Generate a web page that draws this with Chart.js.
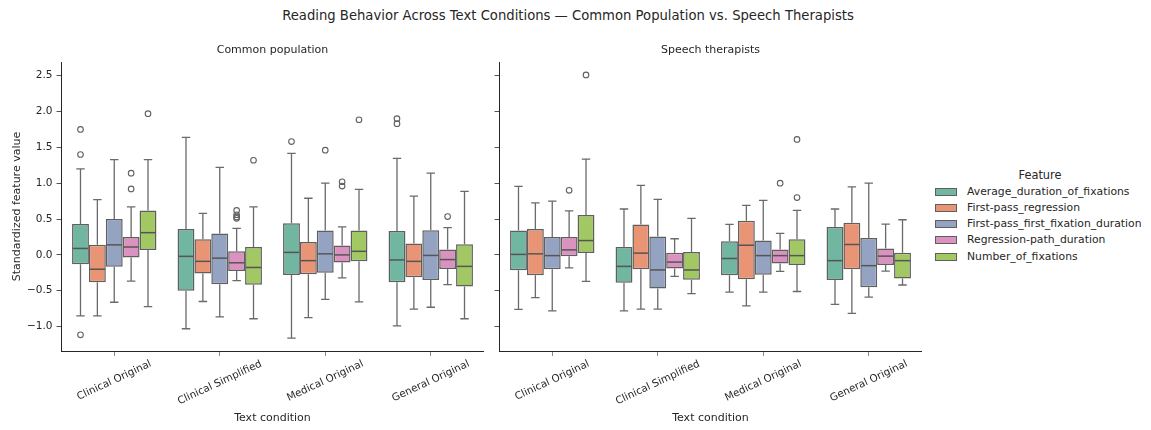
<!DOCTYPE html>
<html>
<head>
<meta charset="utf-8">
<script src="https://cdn.jsdelivr.net/npm/chart.js@4.4.1/dist/chart.umd.min.js"></script>
<style>
  body { margin: 0; background: #fff; }
  #wrap { position: relative; width: 1151px; height: 430px; background: #fff; font-family: "DejaVu Sans", sans-serif; color: #262626; overflow: hidden; }
  #title { position: absolute; left: 0; top: 8px; width: 1136px; text-align: center; font-size: 13.2px; line-height: 16px; }
  canvas { position: absolute; top: 0; }
  #left { left: 0; }
  #right { left: 490px; }
  #legend { position: absolute; left: 935px; top: 167px; font-size: 10.8px; }
  #legend .ttl { position: absolute; left: 0; width: 210px; top: 0; text-align: center; font-size: 11.4px; line-height: 16px; }
  #legend .row { position: absolute; left: 0; height: 16px; line-height: 16px; white-space: nowrap; }
  #legend .sw { position: absolute; left: 0; top: 4px; width: 20px; height: 6px; border: 1px solid #5f5f5f; }
  #legend .lb { position: absolute; left: 32px; top: 0; }
</style>
</head>
<body>
<div id="wrap">
  <div id="title">Reading Behavior Across Text Conditions — Common Population vs. Speech Therapists</div>
  <canvas id="left" width="490" height="430"></canvas>
  <canvas id="right" width="440" height="430"></canvas>
  <div id="legend"></div>
</div>
<script>
// categories and features
const categories = ['Clinical Original', 'Clinical Simplified', 'Medical Original', 'General Original'];
const features = ['Average_duration_of_fixations', 'First-pass_regression', 'First-pass_first_fixation_duration', 'Regression-path_duration', 'Number_of_fixations'];
const featureColors = ['#71b6a1', '#e99575', '#95a3c3', '#db92c1', '#a2c864'];
const yTicks = [-1.0, -0.5, 0.0, 0.5, 1.0, 1.5, 2.0, 2.5];

// Common population, one row per feature, one column per category
const commonLow  = [[-0.85, -1.03, -1.16, -0.99], [-0.85, -0.65, -0.875, -0.755], [-0.66, -0.865, -0.62, -0.73], [-0.365, -0.36, -0.32, -0.415], [-0.72, -0.89, -0.655, -0.89]];
const commonQ1   = [[-0.13, -0.50, -0.28, -0.38], [-0.38, -0.26, -0.27, -0.31], [-0.165, -0.41, -0.25, -0.35], [-0.035, -0.225, -0.105, -0.195], [0.07, -0.415, -0.09, -0.44]];
const commonMed  = [[0.09, -0.02, 0.035, -0.07], [-0.20, -0.09, -0.08, -0.09], [0.14, -0.045, 0.015, -0.007], [0.11, -0.11, 0.0, -0.065], [0.31, -0.175, 0.05, -0.16]];
const commonQ3   = [[0.43, 0.36, 0.44, 0.335], [0.14, 0.22, 0.18, 0.16], [0.50, 0.30, 0.34, 0.345], [0.25, 0.05, 0.13, 0.075], [0.62, 0.11, 0.34, 0.15]];
const commonHigh = [[1.20, 1.64, 1.415, 1.345], [0.77, 0.58, 0.79, 0.82], [1.33, 1.22, 1.00, 1.14], [0.67, 0.37, 0.39, 0.38], [1.33, 0.67, 0.915, 0.885]];
const commonOutliers = [
  [[1.75, 1.40, -1.115], [], [1.58], [1.90, 1.83]],
  [[], [], [], []],
  [[], [], [1.46], []],
  [[1.14, 0.92], [0.62, 0.56, 0.53, 0.51], [1.02, 0.96], [0.535]],
  [[1.97], [1.32], [1.885], []]
];

// Speech therapists
const speechLow  = [[-0.76, -0.78, -0.52, -0.69], [-0.595, -0.755, -0.71, -0.815], [-0.78, -0.755, -0.52, -0.59], [-0.18, -0.30, -0.23, -0.225], [-0.37, -0.54, -0.51, -0.42]];
const speechQ1   = [[-0.215, -0.39, -0.285, -0.35], [-0.285, -0.20, -0.34, -0.20], [-0.20, -0.47, -0.275, -0.45], [-0.02, -0.19, -0.12, -0.14], [0.025, -0.345, -0.14, -0.33]];
const speechMed  = [[0.007, -0.16, -0.05, -0.08], [0.015, 0.025, 0.135, 0.145], [-0.01, -0.21, -0.01, -0.15], [0.07, -0.10, -0.01, -0.017], [0.20, -0.21, -0.01, -0.08]];
const speechQ3   = [[0.34, 0.11, 0.19, 0.39], [0.36, 0.425, 0.475, 0.45], [0.25, 0.255, 0.20, 0.235], [0.25, 0.03, 0.075, 0.09], [0.555, 0.04, 0.22, 0.03]];
const speechHigh = [[0.957, 0.64, 0.425, 0.64], [0.725, 0.97, 0.69, 0.95], [0.75, 0.775, 0.76, 1.00], [0.615, 0.225, 0.30, 0.43], [1.335, 0.51, 0.62, 0.49]];
const speechOutliers = [
  [[], [], [], []],
  [[], [], [], []],
  [[], [], [], []],
  [[0.90], [], [1.00], []],
  [[2.51], [], [1.61, 0.80], []]
];

const lineColor = '#5f5f5f';
const textColor = '#262626';
Chart.defaults.font.family = '"DejaVu Sans", sans-serif';
Chart.defaults.color = textColor;

/**
 * Plugin drawing whiskers, medians, outliers, subplot title and rotated x labels
 */
function boxExtras(title, low, med, high, outliers) {
    return {
        id: 'boxExtras',
        afterDatasetsDraw(chart) {
            const ctx = chart.ctx;
            const y = chart.scales.y;
            ctx.save();
            chart.data.datasets.forEach(function(ds, d) {
                const meta = chart.getDatasetMeta(d);
                meta.data.forEach(function(bar, i) {
                    const x = bar.x;
                    const w = bar.width;
                    const yq1 = y.getPixelForValue(ds.data[i][0]);
                    const yq3 = y.getPixelForValue(ds.data[i][1]);
                    const yLow = y.getPixelForValue(low[d][i]);
                    const yHigh = y.getPixelForValue(high[d][i]);

                    // whiskers and caps
                    ctx.strokeStyle = '#6a6a6a';
                    ctx.lineWidth = 1.3;
                    ctx.beginPath();
                    ctx.moveTo(x, yq3); ctx.lineTo(x, yHigh);
                    ctx.moveTo(x, yq1); ctx.lineTo(x, yLow);
                    ctx.moveTo(x - w / 4, yHigh); ctx.lineTo(x + w / 4, yHigh);
                    ctx.moveTo(x - w / 4, yLow); ctx.lineTo(x + w / 4, yLow);
                    ctx.stroke();

                    // median
                    const ym = y.getPixelForValue(med[d][i]);
                    ctx.strokeStyle = '#555';
                    ctx.lineWidth = 1.5;
                    ctx.beginPath();
                    ctx.moveTo(x - w / 2 + 0.75, ym); ctx.lineTo(x + w / 2 - 0.75, ym);
                    ctx.stroke();

                    // outliers
                    ctx.strokeStyle = '#606060';
                    ctx.lineWidth = 1.1;
                    outliers[d][i].forEach(function(v) {
                        ctx.beginPath();
                        ctx.arc(x, y.getPixelForValue(v), 2.8, 0, Math.PI * 2);
                        ctx.stroke();
                    });
                });
            });
            ctx.restore();
        },
        afterDraw(chart) {
            const ctx = chart.ctx;
            const area = chart.chartArea;
            const xs = chart.scales.x;
            ctx.save();
            ctx.fillStyle = textColor;

            // subplot title
            ctx.font = '11px "DejaVu Sans"';
            ctx.textAlign = 'center';
            ctx.textBaseline = 'middle';
            ctx.fillText(title, (area.left + area.right) / 2, 50);

            // rotated category labels, centred under each tick
            ctx.font = '10.3px "DejaVu Sans"';
            const rot = 25 * Math.PI / 180;
            chart.data.labels.forEach(function(lbl, i) {
                const x = xs.getPixelForTick(i);
                const tw = ctx.measureText(lbl).width;
                const boxH = tw * Math.sin(rot) + 12 * Math.cos(rot);
                ctx.save();
                ctx.translate(x, area.bottom + 7 + boxH / 2);
                ctx.rotate(-rot);
                ctx.fillText(lbl, 0, 0);
                ctx.restore();
            });
            ctx.restore();
        }
    };
}

function buildChart(canvasId, title, q1, q3, low, med, high, outliers, showYLabels, yWidth, padRight) {
    const datasets = features.map(function(name, d) {
        return {
            label: name,
            data: categories.map(function(c, i) { return [q1[d][i], q3[d][i]]; }),
            backgroundColor: featureColors[d],
            borderColor: lineColor,
            borderWidth: 1.5,
            borderSkipped: false,
            categoryPercentage: 0.8,
            barPercentage: 1.0
        };
    });

    return new Chart(document.getElementById(canvasId).getContext('2d'), {
        type: 'bar',
        data: { labels: categories, datasets: datasets },
        options: {
            responsive: false,
            animation: false,
            layout: { padding: { top: 62, right: padRight, bottom: 0, left: 0 } },
            plugins: {
                legend: { display: false },
                tooltip: { enabled: false }
            },
            scales: {
                x: {
                    grid: { display: true, drawOnChartArea: false, offset: false, tickLength: 5, color: '#8a8a8a', lineWidth: 1 },
                    border: { color: textColor, width: 1 },
                    ticks: { display: false },
                    title: { display: true, text: 'Text condition', font: { size: 11 }, color: textColor, padding: { top: 0, bottom: 5 } },
                    afterFit: function(scale) { scale.height = 79; }
                },
                y: {
                    min: -1.34,
                    max: 2.69,
                    afterBuildTicks: function(scale) {
                        scale.ticks = yTicks.map(function(v) { return { value: v }; });
                    },
                    grid: { display: true, drawOnChartArea: false, tickLength: 5, color: '#555', lineWidth: 1 },
                    border: { color: textColor, width: 1 },
                    ticks: {
                        display: showYLabels,
                        padding: 4,
                        font: { size: 10.5 },
                        color: textColor,
                        callback: function(v) { return (v < 0 ? '\u2212' : '') + Math.abs(v).toFixed(1); }
                    },
                    title: { display: showYLabels, text: 'Standardized feature value', font: { size: 11 }, color: textColor, padding: { top: 11, bottom: 0 } },
                    afterFit: function(scale) { scale.width = yWidth; }
                }
            }
        },
        plugins: [boxExtras(title, low, med, high, outliers)]
    });
}

buildChart('left', 'Common population', commonQ1, commonQ3, commonLow, commonMed, commonHigh, commonOutliers, true, 61.5, 6.5);
buildChart('right', 'Speech therapists', speechQ1, speechQ3, speechLow, speechMed, speechHigh, speechOutliers, false, 9.5, 8.5);

// legend
const legend = document.getElementById('legend');
let html = '<div class="ttl" style="top:0">Feature</div>';
features.forEach(function(name, d) {
    html += '<div class="row" style="top:' + (16.5 + d * 16.3) + 'px">' +
        '<div class="sw" style="background:' + featureColors[d] + '"></div>' +
        '<div class="lb">' + name + '</div></div>';
});
legend.innerHTML = html;
</script>
</body>
</html>
